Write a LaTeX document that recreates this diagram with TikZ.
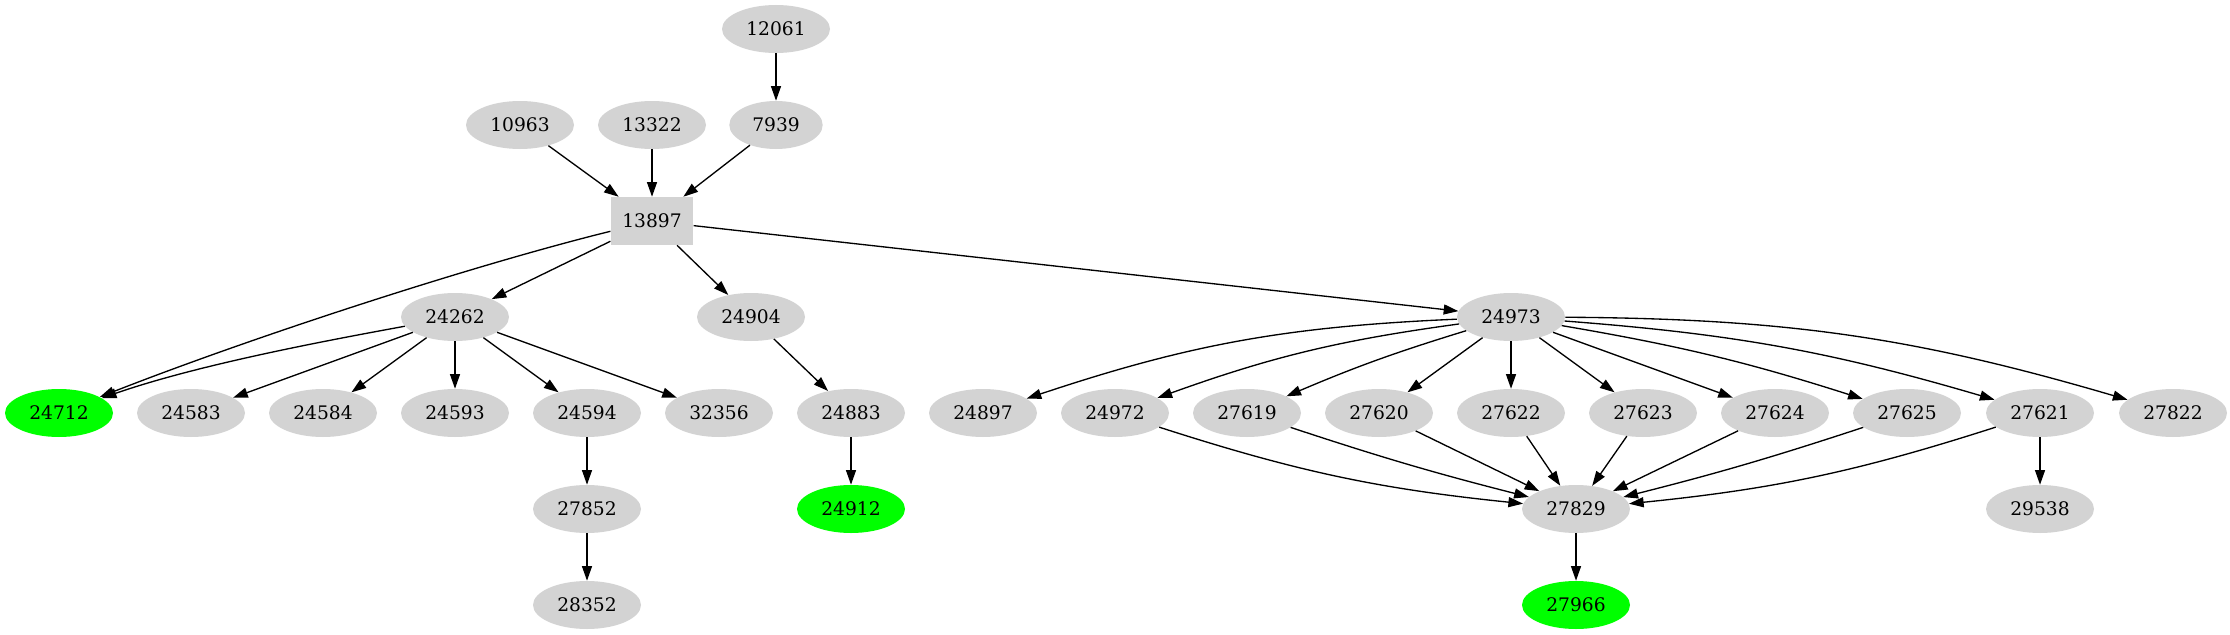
\documentclass[tikz,border=0pt]{standalone}
\usepackage{fontspec}
\setmainfont{DejaVu Serif}
\usetikzlibrary{arrows.meta,shapes.geometric}
\definecolor{ngray}{RGB}{211,211,211}
\definecolor{ngreen}{RGB}{0,255,0}
\begin{document}
\begin{tikzpicture}[x=0.75pt,y=-0.75pt,
  nd/.style={ellipse,fill=ngray,draw=none,inner sep=0pt,minimum width=81pt,minimum height=36pt,font=\fontsize{14}{16}\selectfont},
  nds/.style={nd,minimum width=70pt},
  ng/.style={nd,fill=ngreen},
  nbox/.style={rectangle,fill=ngray,draw=none,inner sep=0pt,minimum width=62pt,minimum height=36pt,font=\fontsize{14}{16}\selectfont},
  ed/.style={line width=1pt,-{Triangle[length=11pt,width=7.5pt]}}]
\useasboundingbox (0,0) rectangle (2230,635);
% rank 1-3
\node[nd] (n12061) at (776,29) {12061};
\node[nd] (n10963) at (520,125) {10963};
\node[nd] (n13322) at (652,125) {13322};
\node[nds] (n7939) at (776,125) {7939};
\node[nbox] (n13897) at (652,221) {13897};
% rank 4
\node[nd] (n24262) at (455,317) {24262};
\node[nd] (n24904) at (751,317) {24904};
\node[nd] (n24973) at (1511,317) {24973};
% rank 5
\node[ng] (n24712) at (59,413) {24712};
\node[nd] (n24583) at (191,413) {24583};
\node[nd] (n24584) at (323,413) {24584};
\node[nd] (n24593) at (455,413) {24593};
\node[nd] (n24594) at (587,413) {24594};
\node[nd] (n32356) at (719,413) {32356};
\node[nd] (n24883) at (851,413) {24883};
\node[nd] (n24897) at (983,413) {24897};
\node[nd] (n24972) at (1115,413) {24972};
\node[nd] (n27619) at (1247,413) {27619};
\node[nd] (n27620) at (1379,413) {27620};
\node[nd] (n27622) at (1511,413) {27622};
\node[nd] (n27623) at (1643,413) {27623};
\node[nd] (n27624) at (1775,413) {27624};
\node[nd] (n27625) at (1907,413) {27625};
\node[nd] (n27621) at (2040,413) {27621};
\node[nd] (n27822) at (2173,413) {27822};
% rank 6-7
\node[nd] (n27852) at (587,509) {27852};
\node[ng] (n24912) at (851,509) {24912};
\node[nd] (n27829) at (1576,509) {27829};
\node[nd] (n29538) at (2040,509) {29538};
\node[nd] (n28352) at (587,605) {28352};
\node[ng] (n27966) at (1576,605) {27966};
% edges
\draw[ed] (n12061) -- (n7939);
\draw[ed] (n10963) -- (n13897);
\draw[ed] (n13322) -- (n13897);
\draw[ed] (n7939) -- (n13897);
\draw[ed] (n13897) .. controls (470,266) and (250,338) .. (n24712);
\draw[ed] (n13897) -- (n24262);
\draw[ed] (n13897) -- (n24904);
\draw[ed] (n13897) -- (n24973);
\draw[ed] (n24262) .. controls (330,340) and (200,364) .. (n24712);
\draw[ed] (n24262) -- (n24583);
\draw[ed] (n24262) -- (n24584);
\draw[ed] (n24262) -- (n24593);
\draw[ed] (n24262) -- (n24594);
\draw[ed] (n24262) -- (n32356);
\draw[ed] (n24594) -- (n27852);
\draw[ed] (n27852) -- (n28352);
\draw[ed] (n24904) -- (n24883);
\draw[ed] (n24883) -- (n24912);
\draw[ed] (n24973) to[bend right=8] (n24897);
\draw[ed] (n24973) to[bend right=6] (n24972);
\draw[ed] (n24973) to[bend right=3] (n27619);
\draw[ed] (n24973) -- (n27620);
\draw[ed] (n24973) -- (n27622);
\draw[ed] (n24973) -- (n27623);
\draw[ed] (n24973) -- (n27624);
\draw[ed] (n24973) to[bend left=4] (n27625);
\draw[ed] (n24973) to[bend left=6] (n27621);
\draw[ed] (n24973) to[bend left=8] (n27822);
\draw[ed] (n24972) to[bend right=6] (n27829);
\draw[ed] (n27619) to[bend right=2] (n27829);
\draw[ed] (n27620) -- (n27829);
\draw[ed] (n27622) -- (n27829);
\draw[ed] (n27623) -- (n27829);
\draw[ed] (n27624) -- (n27829);
\draw[ed] (n27625) to[bend left=2] (n27829);
\draw[ed] (n27621) to[bend left=6] (n27829);
\draw[ed] (n27621) -- (n29538);
\draw[ed] (n27829) -- (n27966);
\end{tikzpicture}
\end{document}
